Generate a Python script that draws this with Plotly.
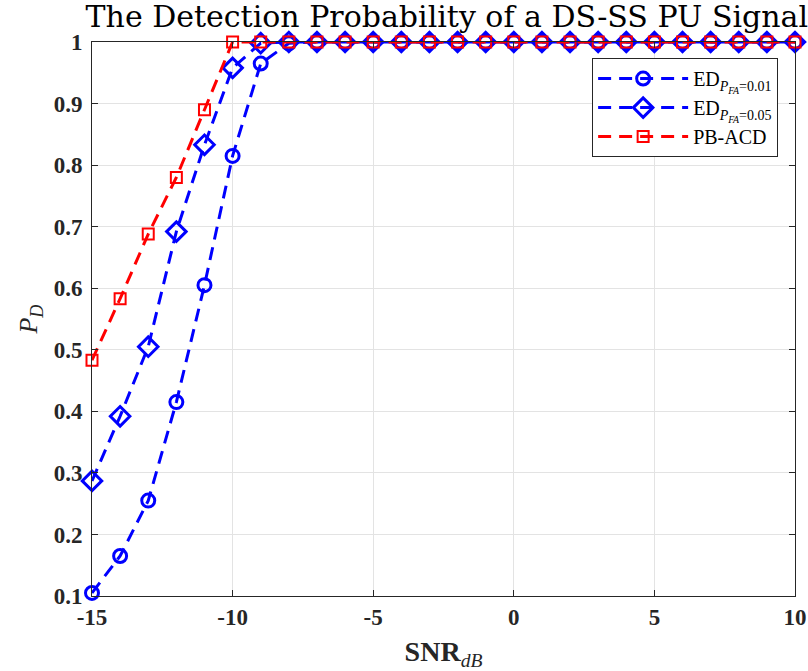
import plotly.graph_objects as go

# SNR in dB, -15 .. 10
snr_db = [-15, -14, -13, -12, -11, -10, -9, -8, -7, -6, -5, -4, -3, -2, -1,
          0, 1, 2, 3, 4, 5, 6, 7, 8, 9, 10]

pd_ed_001 = [0.105, 0.165, 0.255, 0.415, 0.605, 0.815, 0.965, 0.998, 1, 1, 1, 1, 1,
             1, 1, 1, 1, 1, 1, 1, 1, 1, 1, 1, 1, 1]
pd_ed_005 = [0.287, 0.392, 0.505, 0.692, 0.833, 0.958, 0.998, 1, 1, 1, 1, 1, 1,
             1, 1, 1, 1, 1, 1, 1, 1, 1, 1, 1, 1, 1]
pd_pbacd = [0.483, 0.583, 0.688, 0.780, 0.890, 1, 1, 1, 1, 1, 1, 1, 1,
            1, 1, 1, 1, 1, 1, 1, 1, 1, 1, 1, 1, 1]

x_ticks = [-15, -10, -5, 0, 5, 10]
x_tick_labels = ["-15", "-10", "-5", "0", "5", "10"]
y_ticks = [0.1, 0.2, 0.3, 0.4, 0.5, 0.6, 0.7, 0.8, 0.9, 1.0]
y_tick_labels = ["0.1", "0.2", "0.3", "0.4", "0.5", "0.6", "0.7", "0.8", "0.9", "1"]

BLUE = "rgb(0,0,255)"
RED = "rgb(255,0,0)"
SERIF = "Liberation Serif"
AX = "#262626"
DASH = "13px,8px"

fig = go.Figure()

fig.add_trace(go.Scatter(
    x=snr_db, y=pd_ed_001, mode="lines+markers", cliponaxis=False,
    name="ED<sub><i>P<sub>FA</sub></i>=0.01</sub>",
    line=dict(color=BLUE, width=3, dash=DASH),
    marker=dict(symbol="circle-open", size=13, color=BLUE, line=dict(width=3)),
))
fig.add_trace(go.Scatter(
    x=snr_db, y=pd_ed_005, mode="lines+markers", cliponaxis=False,
    name="ED<sub><i>P<sub>FA</sub></i>=0.05</sub>",
    line=dict(color=BLUE, width=3, dash=DASH),
    marker=dict(symbol="diamond-open", size=15, color=BLUE, line=dict(width=3)),
))
fig.add_trace(go.Scatter(
    x=snr_db, y=pd_pbacd, mode="lines+markers", cliponaxis=False,
    name="PB-ACD",
    line=dict(color=RED, width=3, dash=DASH),
    marker=dict(symbol="square-open", size=11, color=RED, line=dict(width=2)),
))

axis_common = dict(
    showline=True, linecolor=AX, linewidth=1, mirror="ticks",
    ticks="inside", ticklen=6, tickcolor=AX,
    showgrid=True, gridcolor="#e3e3e3", gridwidth=1,
    zeroline=False, automargin=False,
    tickfont=dict(family=SERIF, size=23, color=AX, weight="bold"),
)

fig.update_xaxes(
    range=[-15, 10], tickvals=x_ticks, ticktext=x_tick_labels,
    title=dict(text="<b>SNR</b><sub><i>dB</i></sub>",
               font=dict(family=SERIF, size=28, color=AX), standoff=14),
    **axis_common,
)
fig.update_yaxes(
    range=[0.1, 1.0], tickvals=y_ticks, ticktext=y_tick_labels,
    ticklabelstandoff=4,
    title=dict(text="<i>P</i><sub><i>D</i></sub>",
               font=dict(family=SERIF, size=26, color=AX), standoff=8),
    **axis_common,
)

fig.update_layout(
    width=808, height=671,
    margin=dict(l=92, r=13, t=42, b=75),
    paper_bgcolor="white", plot_bgcolor="white",
    title=dict(text="The Detection Probability of a DS-SS PU Signal",
               x=0.553, xanchor="center", y=0.976, yanchor="middle",
               font=dict(family="DejaVu Serif", size=30, color="black")),
    legend=dict(x=0.976, y=0.971, xanchor="right", yanchor="top",
                bgcolor="white", bordercolor=AX, borderwidth=1,
                font=dict(family=SERIF, size=20, color="black"),
                itemwidth=90, tracegroupgap=0),
    showlegend=True,
)

# the page's default body margin would push the 808x671 figure out of the window
fig.write_html("out.html",
               config={"displayModeBar": False},
               post_script="document.body.style.margin='0';"
                           "document.body.style.overflow='hidden';")
